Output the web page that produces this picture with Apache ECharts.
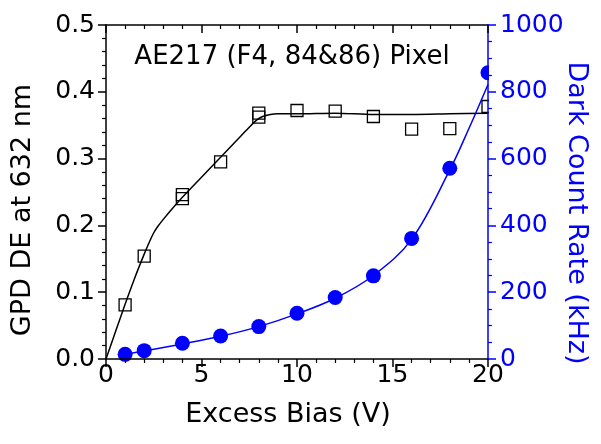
<!DOCTYPE html>
<html>
<head>
<meta charset="utf-8">
<script src="https://cdn.jsdelivr.net/npm/echarts@6/dist/echarts.min.js"></script>
<style>
html,body{margin:0;padding:0;background:#fff;}
#chart{width:601px;height:444px;}
</style>
</head>
<body>
<div id="chart"></div>
<script>
// Measured GPD detection efficiency (open squares)
const deBias = [1, 2, 4, 4, 6, 8, 8, 10, 12, 14, 16, 18, 20];
const deValues = [0.081, 0.154, 0.246, 0.240, 0.295, 0.368, 0.362, 0.372, 0.371, 0.363, 0.344, 0.345, 0.378];
// Fit curve for DE (black line)
const deFitBias = [0, 0.5, 1, 1.5, 2, 2.3, 2.5, 2.7, 3, 3.5, 4, 5, 6, 7, 7.5, 7.9, 8.2, 8.6, 9, 10, 12, 14, 16, 18, 20];
const deFitValues = [0, 0.041, 0.082, 0.121, 0.157, 0.177, 0.189, 0.198, 0.209, 0.226, 0.242, 0.272, 0.302, 0.332, 0.347, 0.358, 0.363, 0.366, 0.367, 0.367, 0.368, 0.366, 0.366, 0.367, 0.368];
// Dark count rate (filled blue circles), kHz
const dcrBias = [1, 2, 4, 6, 8, 10, 12, 14, 16, 18, 20];
const dcrValues = [14, 25, 47, 69, 97, 137, 184, 249, 361, 571, 857];
// Fit curve for DCR (blue line)
const dcrFitBias = [1, 2, 4, 6, 8, 10, 12, 14, 16, 18, 19, 20];
const dcrFitValues = [14, 24, 45, 68, 97, 135, 182, 250, 358, 566, 690, 822];
// Axis tick settings
const xTicks = {min: 0, max: 20, interval: 5};
const yLeftTicks = {min: 0, max: 0.5, interval: 0.1};
const yRightTicks = {min: 0, max: 1000, interval: 200};

const FONT = 'DejaVu Sans';
const BLUE = '#0000ff';
const zip = (a, b) => a.map((v, i) => [v, b[i]]);

const chart = echarts.init(document.getElementById('chart'), null, {renderer: 'canvas'});
const axisLine = (c) => ({show: true, onZero: false, lineStyle: {color: c, width: 1.5}});

chart.setOption({
  backgroundColor: '#fff',
  animation: false,
  grid: {left: 106, right: 113, top: 25, bottom: 85, containLabel: false},
  xAxis: [{
    type: 'value', position: 'bottom', min: xTicks.min, max: xTicks.max, interval: xTicks.interval,
    axisLine: axisLine('#000'),
    axisTick: {show: true, inside: false, length: 8, lineStyle: {color: '#000', width: 1.5}},
    minorTick: {show: true, splitNumber: 5, length: 4, lineStyle: {color: '#000', width: 1.2}},
    axisLabel: {color: '#000', fontFamily: FONT, fontSize: 25, margin: 4},
    splitLine: {show: false}, z: 10
  }, {
    type: 'value', position: 'top', min: xTicks.min, max: xTicks.max, interval: xTicks.interval,
    axisLine: axisLine('#000'),
    axisTick: {show: true, inside: true, length: 8, lineStyle: {color: '#000', width: 1.5}},
    minorTick: {show: true, splitNumber: 5, length: 4, lineStyle: {color: '#000', width: 1.2}},
    axisLabel: {show: false}, splitLine: {show: false}, z: 10
  }],
  yAxis: [{
    type: 'value', position: 'left', min: yLeftTicks.min, max: yLeftTicks.max, interval: yLeftTicks.interval,
    axisLine: axisLine('#000'),
    axisTick: {show: true, inside: false, length: 8, lineStyle: {color: '#000', width: 1.5}},
    minorTick: {show: true, splitNumber: 5, length: 4, lineStyle: {color: '#000', width: 1.2}},
    axisLabel: {color: '#000', fontFamily: FONT, fontSize: 25, margin: 11, formatter: v => v.toFixed(1)},
    splitLine: {show: false}, z: 10
  }, {
    type: 'value', position: 'right', min: yRightTicks.min, max: yRightTicks.max, interval: yRightTicks.interval,
    axisLine: axisLine(BLUE),
    axisTick: {show: true, inside: false, length: 8, lineStyle: {color: BLUE, width: 1.5}},
    minorTick: {show: true, splitNumber: 4, length: 4, lineStyle: {color: BLUE, width: 1.2}},
    axisLabel: {color: BLUE, fontFamily: FONT, fontSize: 25, margin: 12, formatter: v => String(v)},
    splitLine: {show: false}, z: 10
  }],
  graphic: [
    {type: 'rect', shape: {x: 489, y: 0, width: 14, height: 444}, style: {fill: '#fff'}, z: 5, silent: true},
    {type: 'text', x: 292, y: 57.5, style: {text: 'AE217 (F4, 84&86) Pixel', font: '26px "DejaVu Sans"', fill: '#000', textAlign: 'center', textVerticalAlign: 'middle'}, z: 20},
    {type: 'text', x: 288, y: 415, style: {text: 'Excess Bias (V)', font: '27px "DejaVu Sans"', fill: '#000', textAlign: 'center', textVerticalAlign: 'middle'}, z: 20},
    {type: 'text', x: 23, y: 210, rotation: Math.PI / 2, style: {text: 'GPD DE at 632 nm', font: '27px "DejaVu Sans"', fill: '#000', textAlign: 'center', textVerticalAlign: 'middle'}, z: 20},
    {type: 'text', x: 576, y: 213, rotation: -Math.PI / 2, style: {text: 'Dark Count Rate (kHz)', font: '27px "DejaVu Sans"', fill: BLUE, textAlign: 'center', textVerticalAlign: 'middle'}, z: 20}
  ],
  series: [{
    name: 'DE fit', type: 'line', xAxisIndex: 0, yAxisIndex: 0, data: zip(deFitBias, deFitValues),
    smooth: 0.3, showSymbol: false, lineStyle: {color: '#000', width: 1.5}, clip: true, z: 2
  }, {
    name: 'DE', type: 'scatter', xAxisIndex: 0, yAxisIndex: 0, data: zip(deBias, deValues),
    symbol: 'rect', symbolSize: 12, itemStyle: {color: 'rgba(0,0,0,0)', borderColor: '#000', borderWidth: 1.3, opacity: 1}, clip: false, z: 3
  }, {
    name: 'DCR fit', type: 'line', xAxisIndex: 0, yAxisIndex: 1, data: zip(dcrFitBias, dcrFitValues),
    smooth: 0.35, showSymbol: false, lineStyle: {color: BLUE, width: 1.5}, clip: true, z: 2
  }, {
    name: 'DCR', type: 'scatter', xAxisIndex: 0, yAxisIndex: 1, data: zip(dcrBias, dcrValues),
    symbol: 'circle', symbolSize: 15, itemStyle: {color: BLUE, opacity: 1}, clip: false, z: 3
  }]
});
</script>
</body>
</html>
